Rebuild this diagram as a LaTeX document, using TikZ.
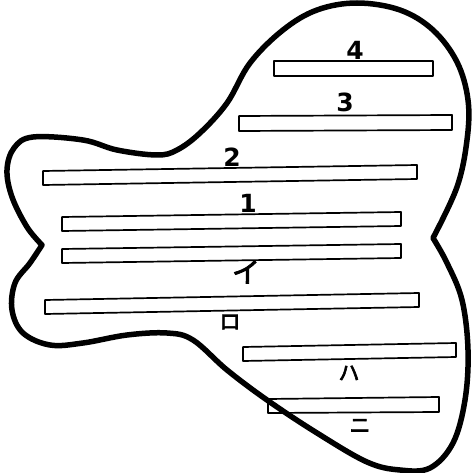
\documentclass[tikz,border=0pt]{standalone}
\usepackage{fontspec}
\setsansfont{DejaVu Sans}
\newfontfamily\jpfont{Noto Sans CJK JP}[AutoFakeBold=3]
\tikzset{
  rim/.style={line width=5.5pt, line join=round, line cap=round},
  bar/.style={line width=1.7pt, line join=round},
  num/.style={font=\sffamily\bfseries\fontsize{25}{25}\selectfont, inner sep=0pt},
  kana/.style={font=\jpfont\bfseries\fontsize{21}{21}\selectfont, inner sep=0pt}
}
\begin{document}
\begin{tikzpicture}[x=1pt,y=-1pt]
    \useasboundingbox (0,0) rectangle (471,473);
    % outline, sharp at the two notches
    \draw[rim]
        plot[smooth, tension=0.6] coordinates {(42,245) (27,227) (12,197) (7,170) (14,148) (33,137)
            (83,140) (117,150) (157,155) (177,150) (200,133) (227,103) (250,63) (283,30) (317,10)
            (357,3) (400,10) (433,30) (457,62) (468,100) (467,140) (457,187) (433,238)}
        -- plot[smooth, tension=0.6] coordinates {(433,238) (447,263) (462,300) (468,350) (465,400)
            (453,443) (430,468) (400,470) (367,462) (317,433) (267,400) (227,370) (193,340)
            (167,333) (127,335) (83,343) (50,345) (23,333) (12,310) (15,283) (30,263) (42,245)}
        -- cycle;
    % the bars
    \draw[bar] (274,61) -- (433,61) -- (433,76) -- (274,76) -- cycle;
    \draw[bar] (239,116) -- (452,115) -- (452,130) -- (239,131) -- cycle;
    \draw[bar] (43,171) -- (417,165) -- (417,179) -- (43,185) -- cycle;
    \draw[bar] (62,217) -- (401,212) -- (401,226) -- (62,231) -- cycle;
    \draw[bar] (62,249) -- (401,244) -- (401,258) -- (62,263) -- cycle;
    \draw[bar] (45,300) -- (419,293) -- (419,307) -- (45,314) -- cycle;
    \draw[bar] (243,347) -- (456,343) -- (456,357) -- (243,361) -- cycle;
    \draw[bar] (268,399) -- (439,397) -- (439,412) -- (268,413) -- cycle;
    % labels
    \node[num] (l4) at (355,50) {4};
    \node[num] (l3) at (345,102) {3};
    \node[num] (l2) at (232,157) {2};
    \node[num] (l1) at (248,203) {1};
    \node[kana, font=\jpfont\bfseries\fontsize{28}{28}\selectfont] (li) at (246,272) {イ};
    \node[kana] (lro) at (230,322) {ロ};
    \node[kana] (lha) at (349,373) {ハ};
    \node[kana] (lni) at (360,426) {ニ};
\end{tikzpicture}
\end{document}
